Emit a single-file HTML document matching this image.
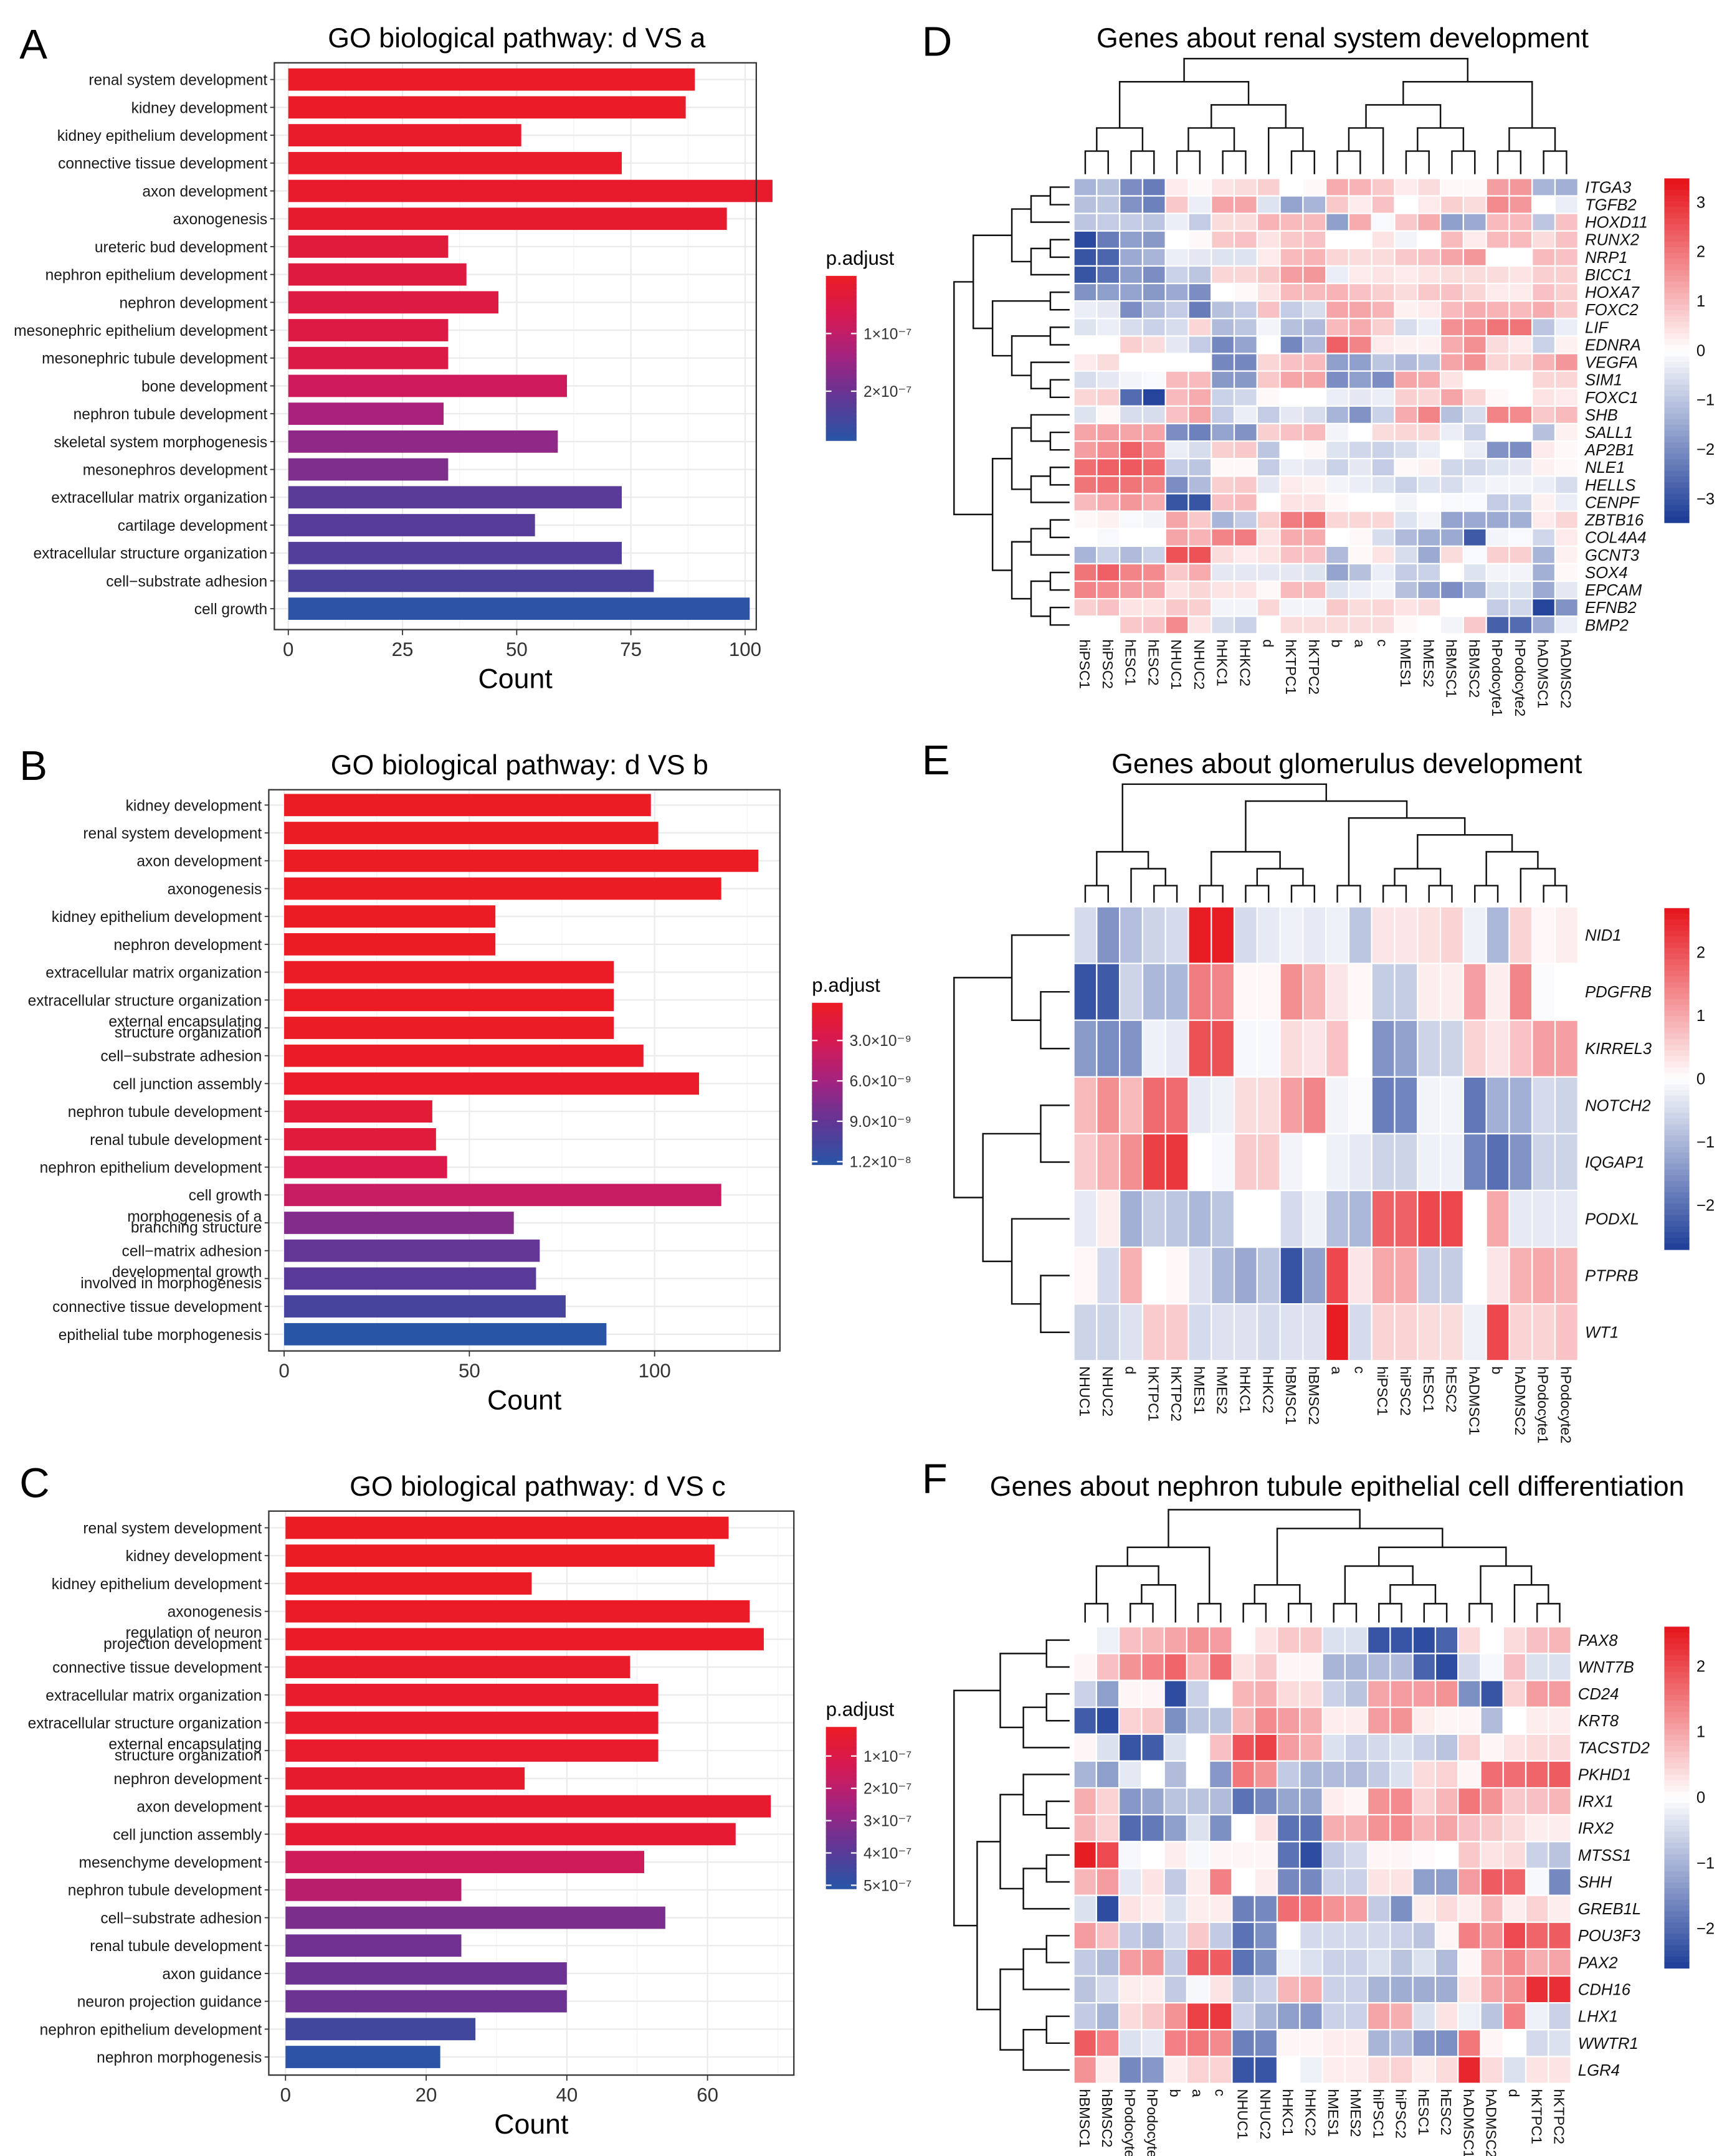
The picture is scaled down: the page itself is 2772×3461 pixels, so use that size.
<!DOCTYPE html>
<html><head><meta charset="utf-8"><style>
html,body{margin:0;padding:0;background:#fff}
svg{display:block;font-family:"Liberation Sans",Arial,sans-serif}
</style></head><body>
<svg id="fig" width="2772" height="3461" viewBox="0 0 1240 1548" xmlns="http://www.w3.org/2000/svg"></svg>
<script>
// ---------- Bar chart data ----------
const catsA=["renal system development","kidney development","kidney epithelium development","connective tissue development","axon development","axonogenesis","ureteric bud development","nephron epithelium development","nephron development","mesonephric epithelium development","mesonephric tubule development","bone development","nephron tubule development","skeletal system morphogenesis","mesonephros development","extracellular matrix organization","cartilage development","extracellular structure organization","cell\u2212substrate adhesion","cell growth"];
const countsA=[89,87,51,73,106,96,35,39,46,35,35,61,34,59,35,73,54,73,80,101];
const padjA=[0.05,0.06,0.1,0.1,0.12,0.15,0.35,0.4,0.45,0.45,0.5,0.8,1.3,1.6,1.8,2.2,2.25,2.3,2.4,2.8];
const ticksA=[0,25,50,75,100];
const legTicksA=[1,2];

const catsB=["kidney development","renal system development","axon development","axonogenesis","kidney epithelium development","nephron development","extracellular matrix organization","extracellular structure organization","external encapsulating\nstructure organization","cell\u2212substrate adhesion","cell junction assembly","nephron tubule development","renal tubule development","nephron epithelium development","cell growth","morphogenesis of a\nbranching structure","cell\u2212matrix adhesion","developmental growth\ninvolved in morphogenesis","connective tissue development","epithelial tube morphogenesis"];
const countsB=[99,101,128,118,57,57,89,89,89,97,112,40,41,44,118,62,69,68,76,87];
const padjB=[0.1,0.1,0.1,0.15,0.2,0.2,0.3,0.3,0.3,0.4,0.5,1.5,1.6,2.5,4,7.5,9,9.5,10.5,12.3];
const ticksB=[0,50,100];
const legTicksB=[3,6,9,12];

const catsC=["renal system development","kidney development","kidney epithelium development","axonogenesis","regulation of neuron\nprojection development","connective tissue development","extracellular matrix organization","extracellular structure organization","external encapsulating\nstructure organization","nephron development","axon development","cell junction assembly","mesenchyme development","nephron tubule development","cell\u2212substrate adhesion","renal tubule development","axon guidance","neuron projection guidance","nephron epithelium development","nephron morphogenesis"];
const countsC=[63,61,35,66,68,49,53,53,53,34,69,64,51,25,54,25,40,40,27,22];
const padjC=[0.1,0.1,0.15,0.2,0.2,0.25,0.3,0.3,0.3,0.35,0.4,0.45,1.5,2,3.3,3.5,3.6,3.6,4.5,5];
const ticksC=[0,20,40,60];
const legTicksC=[1,2,3,4,5];

// ---------- Heatmap data ----------
const rowsD=["ITGA3","TGFB2","HOXD11","RUNX2","NRP1","BICC1","HOXA7","FOXC2","LIF","EDNRA","VEGFA","SIM1","FOXC1","SHB","SALL1","AP2B1","NLE1","HELLS","CENPF","ZBTB16","COL4A4","GCNT3","SOX4","EPCAM","EFNB2","BMP2"];
const colsD=["hiPSC1","hiPSC2","hESC1","hESC2","NHUC1","NHUC2","hHKC1","hHKC2","d","hKTPC1","hKTPC2","b","a","c","hMES1","hMES2","hBMSC1","hBMSC2","hPodocyte1","hPodocyte2","hADMSC1","hADMSC2"];
const valsD=[
[-1.3,-1.1,-2,-2.3,0.3,0.1,0.4,0.5,0.7,0,0.1,1.2,1.1,0.8,0.3,0.5,0.1,0.1,1.4,1.5,-1.3,-1.4],
[-1.1,-1,-1.9,-2.2,0.8,-0.3,1.3,1.3,-0.5,-1.6,-1.3,0.8,0.3,0.9,0,0.3,0.7,0.5,1.7,1.5,0,-0.3],
[-1,-0.9,-0.9,-1,-0.3,-0.9,0.5,0.5,1.1,1,1,-1.7,1.2,-0.1,0.8,1.2,-1.7,-1.5,1,1,-1,0.9],
[-3.2,-2.3,-1.7,-1.8,0,0.1,0.8,0.9,0.4,0.8,0.9,0,0,0.4,-0.2,0,1,0.3,1,1,0.5,0.9],
[-3,-2.7,-1.5,-1.3,-0.3,-0.4,-0.5,-0.5,0.3,1,1.1,0.6,0.5,0.5,0.8,0.9,1.3,1.5,0,0,1,0.9],
[-3,-2.5,-1.7,-2,-0.8,-1,0.6,0.6,0.8,1.4,1.5,-0.3,0.3,0.4,0.3,0.4,0.5,0.5,0.5,0.4,0.7,0.7],
[-1.9,-1.7,-1.6,-1.8,-1.5,-2,0,0.1,0.4,1,1,1.1,0.9,0.7,0.5,0.8,0.9,0.6,0.3,0.3,0.9,0.7],
[-0.3,-0.4,-2,-1.2,-0.9,-2.3,-1.1,-0.9,0.9,-0.9,-0.6,1.3,1.3,1.1,0.2,0.3,1,1.2,1.1,1,1.2,0.8],
[-0.5,-0.3,-0.6,-0.8,-0.6,0.6,-1.2,-1,-0.2,-1.1,-1.2,1,1.2,0.7,-0.6,-0.3,1.6,1.7,2,2,-1,-0.3],
[0,0,0.7,0.5,-0.4,-0.9,-2.1,-1.6,0,-2.1,-1.2,2.3,1.8,0.3,0.2,0.2,1.2,1.6,0.5,0.3,-0.8,0.2],
[0.3,0.5,0,0,0,0,-2.1,-2.1,0.6,0.9,1,-1.7,-1.7,-1,-1.2,-1,1.3,1.6,0.6,0.6,1.1,1.5],
[-0.6,-0.4,-0.2,-0.1,1,1,-1.8,-1.8,0.8,1.3,1.3,-2,-1.7,-2,1.3,1.2,0.4,0,0,0,0.6,0.6],
[0.6,0.7,-2.6,-3.3,1,1.2,-0.8,-0.7,0.1,0,0,-0.3,-0.4,-0.3,0.7,0.6,1.3,0.6,0.1,0,0.4,0.3],
[-0.5,0.1,-0.6,-0.6,0.9,1.3,-0.9,-0.3,-0.9,-0.4,-0.6,-1.3,-1.9,-0.8,1.2,1.8,-1.1,-0.6,1.8,1.7,0.8,1],
[1.3,1.4,1.3,1.3,-2,-2.2,-1.6,-1.9,0.7,0.9,1,-0.2,0,0.5,0.6,0.6,-0.3,-0.8,0,0,-1.1,0.2],
[1.4,1.7,2.3,1.7,-0.3,-0.6,0.7,0.8,-1,0,0.1,-0.5,-0.7,-0.8,-0.6,-0.3,0,-0.3,-1.9,-2,0.3,0.1],
[2.1,2.3,2.4,2.2,-0.9,-1,0.1,0.1,-0.9,-0.3,-0.4,-0.8,-0.4,-0.9,0.1,0.2,-0.7,-0.7,-0.5,-0.4,0.2,0.1],
[2,2.1,2,1.8,-2,-1.2,0.7,0.8,-0.4,0.3,0.2,-0.2,-0.3,-0.5,-0.8,-0.5,-0.6,-0.3,-0.2,-0.2,-0.3,-0.6],
[1,1.2,1.5,1.2,-3,-3,0.9,1,0,0.4,0.4,0.1,0,0,-0.2,0,-0.1,-0.1,-0.9,-0.8,0.2,-0.3],
[0.1,0.2,-0.1,-0.2,1.3,0.8,-1.3,-0.9,0.7,1.9,2,0.6,0.6,0.6,-0.5,-0.2,-1.6,-1.5,-1.5,-1.4,0.3,0.6],
[0,-0.1,0,0,1.3,1.1,1.8,1.9,0.4,1.2,1.2,0,0.1,-0.6,-1.2,-1.4,-1.5,-2.9,-0.2,-0.1,-0.7,0.3],
[-1.3,-0.8,-1.2,-0.8,2.5,2.5,0.5,0.3,0.4,0.9,0.9,-1.2,0.1,0.4,-0.6,-1.5,0.5,-0.1,0.7,0.7,-1.3,0.2],
[2,2.3,1.8,1.7,0.8,1.2,-0.4,-0.4,-0.4,-0.4,-0.5,-1.6,-1.1,-0.3,-0.9,-0.8,0,-0.5,-0.2,-0.2,-1.4,0.1],
[1.8,1.7,1.4,1.3,0.4,0.6,0.4,0.4,0.1,1,1,-0.5,-0.3,-0.2,-1.1,-1.5,-2,-1.4,-0.5,-0.5,-1.5,-0.4],
[0.7,0.9,0.4,0.4,0.8,0.7,-0.2,-0.2,0.6,-0.2,-0.2,0.8,0.5,0.6,0.4,0.5,0,0,-0.9,-0.7,-3.3,-1.9],
[0,0,0.8,0.9,1.7,0.4,-0.6,-0.8,0,0.5,0.5,0.5,0.5,0.5,0.1,0,-0.2,0.8,-2.8,-2.6,-1.5,-0.3]];
const legTicksD=[3,2,1,0,-1,-2,-3];

const rowsE=["NID1","PDGFRB","KIRREL3","NOTCH2","IQGAP1","PODXL","PTPRB","WT1"];
const colsE=["NHUC1","NHUC2","d","hKTPC1","hKTPC2","hMES1","hMES2","hHKC1","hHKC2","hBMSC1","hBMSC2","a","c","hiPSC1","hiPSC2","hESC1","hESC2","hADMSC1","b","hADMSC2","hPodocyte1","hPodocyte2"];
const valsE=[
[-0.5,-1.5,-0.9,-0.6,-0.5,2.6,2.6,-0.5,-0.3,-0.2,-0.3,-0.2,-0.8,0.3,0.3,0.35,0.5,-0.2,-1,0.5,0.1,0.2],
[-2.4,-2.3,-0.6,-1,-1,1.5,1.4,0.1,0.1,1.3,0.9,0.3,0.1,-0.7,-0.7,0.2,0.2,1.1,0.2,1.4,-0.05,0],
[-1.4,-1.6,-1.5,-0.2,-0.3,2,2,-0.1,-0.1,0.4,0.3,0.7,0,-1.5,-1.3,-0.6,-0.6,0.5,0.3,0.7,1.1,1.1],
[0.8,1.3,0.8,1.7,1.7,-0.3,-0.2,0.4,0.4,1.1,1.4,-0.15,-0.05,-1.8,-1.7,-0.15,-0.15,-1.9,-1.1,-1.1,-0.5,-0.6],
[0.6,0.9,1.3,2.2,2.3,0,-0.1,0.6,0.6,-0.15,0,-0.2,-0.3,-0.6,-0.6,-0.2,-0.2,-1.7,-2,-1.5,-0.6,-0.6],
[-0.3,0.2,-1.1,-0.7,-0.8,-1,-0.8,0,0,-0.5,-0.2,-0.9,-1,1.8,1.8,2.1,2.1,0,1,-0.3,-0.3,-0.3],
[0.1,-0.5,0.9,0,0.1,-0.4,-1,-1.2,-0.8,-2.4,-1.3,2.1,0.3,1,1,-0.7,-0.7,0,0.3,0.9,1,0.9],
[-0.6,-0.6,-0.4,0.6,0.6,-0.5,-0.4,-0.4,-0.5,-0.4,-0.4,2.6,-0.5,0.5,0.5,0.4,0.4,-0.2,2.1,0.5,0.5,0.7]];
const legTicksE=[2,1,0,-1,-2];

const rowsF=["PAX8","WNT7B","CD24","KRT8","TACSTD2","PKHD1","IRX1","IRX2","MTSS1","SHH","GREB1L","POU3F3","PAX2","CDH16","LHX1","WWTR1","LGR4"];
const colsF=["hBMSC1","hBMSC2","hPodocyte1","hPodocyte2","b","a","c","NHUC1","NHUC2","hHKC1","hHKC2","hMES1","hMES2","hiPSC1","hiPSC2","hESC1","hESC2","hADMSC1","hADMSC2","d","hKTPC1","hKTPC2"];
const valsF=[
[0,-0.2,0.7,0.8,1,1.2,1.1,0,0.3,0.6,0.6,-0.4,-0.4,-2.3,-2.3,-2.4,-2.1,0.4,0,0.4,0.7,0.8],
[0.1,0.7,1.2,1.4,1.7,0.8,1.6,0.3,0.6,0.1,0.1,-1,-1,-0.9,-0.9,-2.1,-2.4,-0.5,-0.1,0.7,-0.4,-0.4],
[-0.6,-1.3,0.1,0.1,-2.4,-0.6,0,0.8,0.9,0.4,0.4,-0.6,-0.8,1,1.1,1.1,1.2,-1.5,-2.3,0.5,1.1,1.1],
[-2.2,-2.4,0.5,0.6,-1.5,-0.8,-0.8,0.8,1.3,1.1,0.9,0.2,0.2,1.1,1.2,0.2,0.1,0.1,-0.9,0,0.2,0.2],
[0.1,-0.4,-2.3,-2.2,-0.4,0,0.7,1.9,2.1,1.1,0.9,-0.4,-0.6,-0.5,-0.4,-0.6,-0.8,0.5,0.1,0.3,0.4,0.4],
[-1,-1.3,-0.3,0,-0.9,0,-1.4,1.5,1.2,-0.7,-1,-0.9,-0.9,-0.7,-0.4,0.4,0.5,0.1,1.6,1.6,1.7,1.8],
[0.9,0.5,-1.4,-1.2,-0.8,-0.8,-0.9,-1.9,-1.6,-1.2,-1.2,0.2,0.1,1.2,1.3,0.5,0.8,1.5,1.2,0.6,0.7,0.8],
[0.8,0.5,-2,-1.8,-1.3,-0.4,-1.5,0,0.3,-1.9,-1.9,0.9,0.9,1.2,1.3,0.8,1,0.7,0.6,0.4,0.2,0.2],
[2.5,2,-0.1,0,0.2,-0.1,0.1,0.1,0.1,-1.9,-2.4,-0.7,-0.5,0.1,0.1,0.05,0,0.6,0.3,0.4,-0.6,-0.8],
[0.8,1.1,-0.3,0.3,-0.7,0.2,1.4,0,0.2,-1.6,-1.6,-0.6,-0.6,0.3,0.3,-1.3,-1.3,1.1,1.8,1.7,-0.1,-1.6],
[-0.4,-2.4,0.3,0.2,-0.4,0.2,0.2,-1.7,-1.6,1.6,1.5,1.2,1.1,-0.7,-1.5,0.2,0.4,0.2,0.8,0.2,0.5,0.2],
[1.1,0.7,-0.7,-0.9,-0.5,0.6,-0.7,-1.9,-1.5,0,-0.5,-0.5,-0.5,-0.5,-0.6,-0.8,0.1,1.4,1.2,2,1.7,1.8],
[-0.7,-0.9,1.1,1.2,-0.7,1.8,1.8,-1.9,-1.5,-0.2,-0.4,-0.6,-0.6,-0.4,-0.8,-0.4,-0.9,0.1,1,1.3,0.9,1],
[-0.8,-0.5,0.2,0.2,-0.7,-0.1,0.3,-0.8,-0.6,0.8,0.9,-0.6,-0.6,-1,-1.1,-1.1,-1.1,0.3,1,1.2,2.3,2.3],
[-0.7,-1,0.4,0.6,1.2,2.1,2.2,-0.6,-1,-1.3,-1.4,-0.6,-0.6,1,0.9,-0.4,0.3,-0.2,-0.8,1.4,-0.2,-0.6],
[1.8,1.4,-0.4,-0.3,1.4,1.5,1.3,-1.7,-1.6,0.1,0.1,0.2,0.2,-1,-0.9,-1.4,-1.5,1.5,0.1,0,-0.5,-0.4],
[1.2,0.2,-1.6,-1.4,0.2,0.5,0.5,-2.3,-2.3,0,-0.2,0.2,0.2,0.4,0.5,0.2,0.4,2.4,0.4,-0.4,0.3,0.3]];
const legTicksF=[2,1,0,-1,-2];

// dendrogram topologies (leaf indices)
const treeDc=[[[[0,1],[2,3]],[[[4,5],[6,7]],[8,[9,10]]]],[[[[11,12],13],[[14,15],[16,17]]],[[18,19],[20,21]]]];
const treeDr=[[[[[0,1],2],[[3,4],5]],[[6,7],[[8,9],[10,[11,12]]]]],[[[13,[14,15]],[[16,17],18]],[[[19,20],21],[[22,23],[24,25]]]]];
const treeEc=[[[0,1],[2,[3,4]]],[[[5,6],[[7,8],[9,10]]],[[11,12],[[[13,14],[15,16]],[[17,18],[19,[20,21]]]]]]];
const treeEr=[[0,[1,2]],[[3,4],[5,[6,7]]]];
const treeFc=[[[[0,1],[[2,3],4]],[5,6]],[[[7,8],[9,10]],[[[11,12],[[13,14],[15,16]]],[[17,18],[19,[20,21]]]]]];
const treeFr=[[[0,1],[[2,3],4]],[[[5,[6,7]],[[8,9],10]],[[[11,12],13],[[14,15],16]]]];

// ---------- helpers ----------
const NS="http://www.w3.org/2000/svg";
const svg=document.getElementById('fig');
function el(tag,attrs,parent,txt){const e=document.createElementNS(NS,tag);for(const k in attrs)e.setAttribute(k,attrs[k]);if(txt!==undefined)e.textContent=txt;(parent||svg).appendChild(e);return e;}
function lerp(a,b,t){return a.map((v,i)=>Math.round(v+(b[i]-v)*t));}
function rgb(c){return `rgb(${c[0]},${c[1]},${c[2]})`;}
function padjColor(t){t=Math.max(0,Math.min(1,t));
  const s=[[236,28,36],[213,25,85],[160,35,130],[95,55,150],[40,85,165]];
  const x=t*(s.length-1);const i=Math.min(s.length-2,Math.floor(x));return rgb(lerp(s[i],s[i+1],x-i));}
function heatColor(v,vmax){let t=Math.max(-1,Math.min(1,v/vmax));
  if(t>=0)return rgb(lerp([255,255,255],[230,20,27],t));return rgb(lerp([255,255,255],[30,62,152],-t));}

// ---------- bar chart ----------
function barChart(o){
  const g=el('g',{});
  
  
  const X=v=>o.x0+v*o.ppu;
  const n=o.cats.length;const Y=i=>o.yFirst+i*o.step;
  for(let k=0;k<o.ticks.length;k++){const t=o.ticks[k];
    el('line',{x1:X(t),x2:X(t),y1:o.by0,y2:o.by1,stroke:'#EBEBEB','stroke-width':1},g);
    const m=t+(o.ticks[1]-o.ticks[0])/2; if(X(m)<o.bx1) el('line',{x1:X(m),x2:X(m),y1:o.by0,y2:o.by1,stroke:'#F4F4F4','stroke-width':0.6},g);}
  for(let i=0;i<n;i++) el('line',{x1:o.bx0,x2:o.bx1,y1:Y(i),y2:Y(i),stroke:'#EBEBEB','stroke-width':1},g);
  for(let i=0;i<n;i++){
    const b=el('rect',{x:X(0),y:Y(i)-8,width:X(o.vals[i])-X(0),height:16,fill:padjColor((o.padj[i]-o.pmin)/(o.pmax-o.pmin))},g);
    
    
    const lines=o.cats[i].split('\n');
    const tx=el('text',{x:o.bx0-5,'text-anchor':'end','font-size':11,fill:'#1a1a1a'},g);
    
    
    if(lines.length==1){tx.setAttribute('y',Y(i)+4);tx.textContent=lines[0];}
    else{el('tspan',{x:o.bx0-5,y:Y(i)-1},tx,lines[0]);el('tspan',{x:o.bx0-5,y:Y(i)+7},tx,lines[1]);}
    el('line',{x1:o.bx0-3,x2:o.bx0,y1:Y(i),y2:Y(i),stroke:'#333','stroke-width':0.8},g);
  }
  el('rect',{x:o.bx0,y:o.by0,width:o.bx1-o.bx0,height:o.by1-o.by0,fill:'none',stroke:'#333','stroke-width':1},g);
  for(const t of o.ticks){el('line',{x1:X(t),x2:X(t),y1:o.by1,y2:o.by1+4,stroke:'#333','stroke-width':0.8},g);
    const tl=el('text',{x:X(t),y:o.by1+19,'text-anchor':'middle','font-size':14,fill:'#333'},g,String(t));
    
    }
  const xt=el('text',{x:(o.bx0+o.bx1)/2,y:o.by1+42,'text-anchor':'middle','font-size':20,fill:'#000'},g,'Count');
  
  
  const ti=el('text',{x:o.titleX,y:o.titleY,'text-anchor':'middle','font-size':20,fill:'#000'},g,o.title);
  
  
  const pl=el('text',{x:o.panelX,y:o.panelY,'font-size':30,fill:'#000'},g,o.panel);
  
  
  const lg=el('g',{},g);
  
  
  el('text',{x:o.lx,y:o.ly0-8,'font-size':14,fill:'#000'},lg,'p.adjust');
  const steps=40;const h=(o.ly1-o.ly0)/steps;
  for(let s=0;s<steps;s++) el('rect',{x:o.lx,y:o.ly0+s*h,width:22,height:h+0.5,fill:padjColor((s+0.5)/steps)},lg);
  for(const t of o.legTicks){const y=o.ly0+(t-o.pmin)/(o.pmax-o.pmin)*(o.ly1-o.ly0);
    el('line',{x1:o.lx,x2:o.lx+4,y1:y,y2:y,stroke:'#fff','stroke-width':1},lg);
    el('line',{x1:o.lx+18,x2:o.lx+22,y1:y,y2:y,stroke:'#fff','stroke-width':1},lg);
    el('text',{x:o.lx+27,y:y+4,'font-size':11,fill:'#333'},lg,o.fmt(t));}
}
function sci(m,e){return m+'\u00d710'+e;}

barChart({name:'bar-chart-a',cats:catsA,vals:countsA,padj:padjA,ticks:ticksA,x0:207,ppu:3.28,yFirst:57,step:20,bx0:197,bx1:543,by0:45,by1:452,
  title:'GO biological pathway: d VS a',titleX:371,titleY:34,panel:'A',panelX:14,panelY:42,
  lx:593,ly0:198,ly1:316,pmin:0,pmax:2.85,legTicks:legTicksA,fmt:t=>sci(t,'\u207b\u2077')});
barChart({name:'bar-chart-b',cats:catsB,vals:countsB,padj:padjB,ticks:ticksB,x0:204,ppu:2.66,yFirst:578,step:20,bx0:193,bx1:560,by0:567,by1:970,
  title:'GO biological pathway: d VS b',titleX:373,titleY:556,panel:'B',panelX:14,panelY:560,
  lx:583,ly0:720,ly1:836,pmin:0.2,pmax:12.2,legTicks:legTicksB,fmt:t=>(t<10?t.toFixed(1)+'\u00d710\u207b\u2079':(t/10).toFixed(1)+'\u00d710\u207b\u2078')});
barChart({name:'bar-chart-c',cats:catsC,vals:countsC,padj:padjC,ticks:ticksC,x0:205,ppu:5.05,yFirst:1097,step:20,bx0:193,bx1:570,by0:1085,by1:1490,
  title:'GO biological pathway: d VS c',titleX:386,titleY:1074,panel:'C',panelX:14,panelY:1075,
  lx:593,ly0:1240,ly1:1356,pmin:0.1,pmax:5.1,legTicks:legTicksC,fmt:t=>sci(t,'\u207b\u2077')});

// ---------- heatmaps ----------
function depth(t){return Array.isArray(t)?1+Math.max(depth(t[0]),depth(t[1])):0;}
function drawTree(t,g,pos,maxd,len,base,vertical){
  if(!Array.isArray(t))return [pos(t),0];
  const a=drawTree(t[0],g,pos,maxd,len,base,vertical),b=drawTree(t[1],g,pos,maxd,len,base,vertical);
  const h=depth(t)/maxd*len;
  const m=(a[0]+b[0])/2;
  let d;
  if(vertical) d=`M${a[0]},${base-a[1]}V${base-h}H${b[0]}V${base-b[1]}`;
  else d=`M${base-a[1]},${a[0]}H${base-h}V${b[0]}H${base-b[1]}`;
  el('path',{d:d,fill:'none',stroke:'#111','stroke-width':1.1},g);
  return [m,h];
}
function heatmap(o){
  const g=el('g',{});
  
  
  const nr=o.rows.length,nc=o.cols.length;
  const cw=(o.x1-o.x0)/nc,rh=(o.y1-o.y0)/nr;
  for(let r=0;r<nr;r++)for(let c=0;c<nc;c++){
    const cell=el('rect',{x:o.x0+c*cw,y:o.y0+r*rh,width:cw,height:rh,fill:heatColor(o.vals[r][c],o.vmax),stroke:'#fff','stroke-width':1},g);
    
    
  }
  for(let r=0;r<nr;r++){const t=el('text',{x:o.x1+5,y:o.y0+(r+0.5)*rh+4,'font-size':11.5,'font-style':'italic',fill:'#111'},g,o.rows[r]);
    
    }
  for(let c=0;c<nc;c++){const x=o.x0+(c+0.5)*cw-4,y=o.y1+4;
    const t=el('text',{x:x,y:y,'font-size':10.5,fill:'#111',transform:`rotate(90 ${x} ${y})`},g,o.cols[c]);
    
    }
  const dc=el('g',{},g);
  
  
  drawTree(o.ctree,dc,i=>o.x0+(i+0.5)*cw,depth(o.ctree),o.y0-o.cTop-3,o.y0-3,true);
  const dr=el('g',{},g);
  
  
  drawTree(o.rtree,dr,i=>o.y0+(i+0.5)*rh,depth(o.rtree),o.x0-3-o.rLeft,o.x0-3,false);
  const lg=el('g',{},g);
  
  
  const steps=60,h=(o.ly1-o.ly0)/steps;
  for(let s=0;s<steps;s++){const v=o.lmax-(s+0.5)/steps*2*o.lmax;
    el('rect',{x:1195,y:o.ly0+s*h,width:18,height:h+0.5,fill:heatColor(v,o.vmax)},lg);}
  for(const t of o.legTicks){const y=o.ly0+(o.lmax-t)/(2*o.lmax)*(o.ly1-o.ly0);
    el('text',{x:1218,y:y+4,'font-size':11.5,fill:'#111'},lg,t<0?'\u2212'+(-t):String(t));}
  const ti=el('text',{x:o.titleX,y:o.titleY,'text-anchor':'middle','font-size':20,fill:'#000'},g,o.title);
  
  
  const pl=el('text',{x:662,y:o.panelY,'font-size':30,fill:'#000'},g,o.panel);
  
  
}
heatmap({name:'heatmap-d',rows:rowsD,cols:colsD,vals:valsD,vmax:3.4,x0:771,x1:1133,y0:128,y1:455,ctree:treeDc,rtree:treeDr,cTop:42,rLeft:685,
  ly0:128,ly1:375,lmax:3.48,legTicks:legTicksD,title:'Genes about renal system development',titleX:964,titleY:34,panel:'D',panelY:40});
heatmap({name:'heatmap-e',rows:rowsE,cols:colsE,vals:valsE,vmax:2.7,x0:771,x1:1133,y0:651,y1:977,ctree:treeEc,rtree:treeEr,cTop:563,rLeft:685,
  ly0:652,ly1:897,lmax:2.7,legTicks:legTicksE,title:'Genes about glomerulus development',titleX:967,titleY:555,panel:'E',panelY:556});
heatmap({name:'heatmap-f',rows:rowsF,cols:colsF,vals:valsF,vmax:2.6,x0:771,x1:1128,y0:1168,y1:1496,ctree:treeFc,rtree:treeFr,cTop:1084,rLeft:685,
  ly0:1168,ly1:1413,lmax:2.6,legTicks:legTicksF,title:'Genes about nephron tubule epithelial cell differentiation',titleX:960,titleY:1074,panel:'F',panelY:1072});
</script>
</body></html>
